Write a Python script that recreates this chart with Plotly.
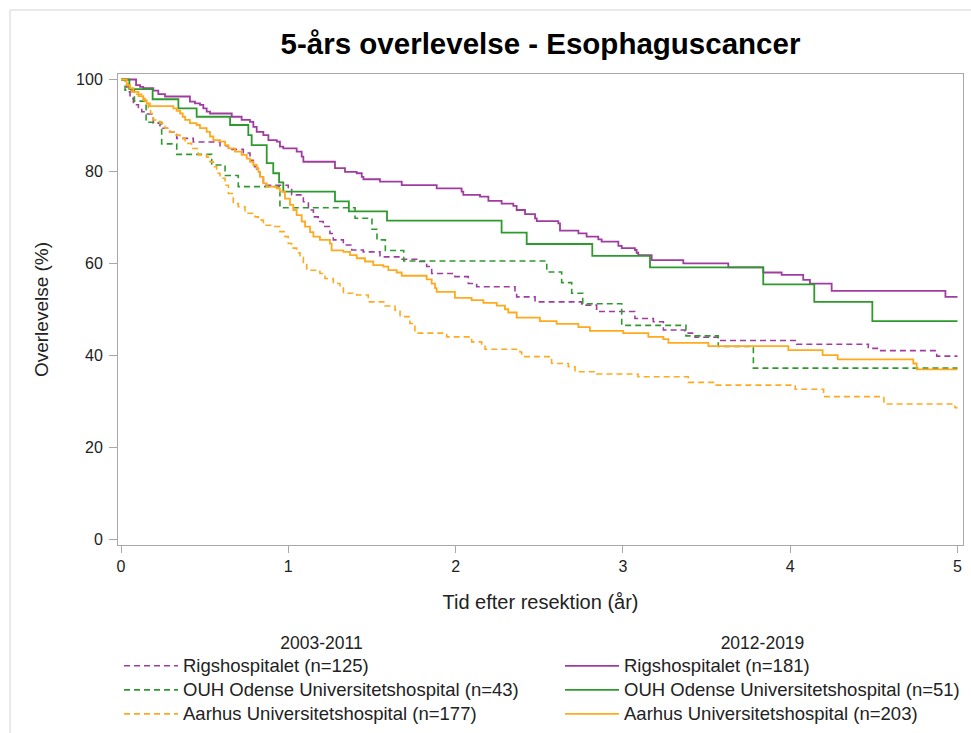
import plotly.graph_objects as go

# ---------------- data (time in years, survival in %) ----------------
rh_0311_t = [0, 0.034, 0.044, 0.054, 0.074, 0.104, 0.124, 0.143, 0.193, 0.233, 0.293, 0.333, 0.432,
             0.592, 0.642, 0.731, 0.771, 0.791, 0.811, 0.831, 0.851, 1.000, 1.020, 1.090, 1.120, 1.150,
             1.179, 1.209, 1.249, 1.269, 1.329, 1.379, 1.448, 1.548, 1.668, 1.767, 1.827, 1.857, 1.996,
             2.076, 2.126, 2.355, 2.365, 2.475, 2.754, 2.843, 3.072, 3.182, 3.242, 3.371, 3.431, 3.570,
             4.039, 4.467, 4.527, 4.876, 5.0]
rh_0311_s = [100, 98.4, 97.3, 95.9, 94.5, 93.9, 93.0, 92.5, 90.5, 89.4, 88.6, 87.2, 86.4,
             85.6, 84.8, 84.0, 82.4, 81.0, 79.9, 78.8, 77.0, 76.5, 74.9, 73.4, 71.6, 70.1,
             69.1, 68.0, 66.5, 65.1, 64.0, 62.9, 62.5, 61.4, 60.9, 60.4, 59.3, 57.8, 57.1,
             55.6, 54.9, 53.8, 52.7, 51.6, 50.9, 49.5, 48.0, 47.3, 45.5, 44.8, 43.9, 43.2,
             42.4, 41.5, 41.0, 39.8, 39.8]

ouh_0311_t = [0, 0.024, 0.08, 0.15, 0.243, 0.333, 0.542, 0.622, 0.701, 0.950, 1.399, 1.50, 1.53,
              1.58, 1.69, 2.545, 2.634, 2.694, 2.76, 2.993, 3.377, 3.570, 3.780, 5.0]
ouh_0311_s = [100, 97.7, 95.3, 90.7, 86.0, 83.7, 81.4, 79.1, 76.7, 72.1, 69.8, 67.4, 65.1,
              62.8, 60.5, 58.1, 55.8, 53.5, 51.2, 46.5, 44.2, 41.9, 37.2, 37.2]

auh_0311_t = [0, 0.024, 0.044, 0.064, 0.094, 0.124, 0.143, 0.163, 0.177, 0.193, 0.233, 0.263, 0.283,
              0.323, 0.353, 0.383, 0.422, 0.462, 0.512, 0.532, 0.552, 0.572, 0.592, 0.622, 0.642,
              0.671, 0.701, 0.741, 0.801, 0.821, 0.851, 0.910, 0.950, 0.980, 1.000, 1.020, 1.050,
              1.070, 1.090, 1.110, 1.189, 1.219, 1.269, 1.309, 1.329, 1.409, 1.478, 1.578, 1.638,
              1.668, 1.727, 1.757, 1.947, 2.096, 2.156, 2.176, 2.385, 2.395, 2.564, 2.574, 2.674,
              2.714, 2.843, 3.090, 3.391, 3.550, 4.030, 4.200, 4.560, 4.985, 5.0]
auh_0311_s = [100, 99.0, 98.1, 97.3, 96.8, 95.9, 94.8, 93.9, 92.6, 91.2, 90.5, 89.4, 88.6,
              87.9, 87.2, 86.1, 85.0, 83.6, 83.1, 82.1, 81.0, 79.6, 78.5, 77.0, 75.2,
              73.0, 72.3, 70.9, 70.1, 69.4, 68.3, 68.0, 66.9, 65.8, 64.3, 63.3, 62.3,
              61.3, 60.0, 58.5, 57.8, 56.7, 55.6, 54.9, 53.5, 53.1, 51.6, 50.7, 49.8,
              48.4, 46.9, 44.8, 44.0, 42.9, 42.2, 41.3, 40.7, 39.7, 39.0, 38.2, 37.5,
              36.4, 35.9, 35.3, 34.1, 33.5, 32.6, 31.0, 29.4, 28.6, 28.6]

rh_1219_t = [0, 0.090, 0.114, 0.133, 0.193, 0.223, 0.263, 0.412, 0.442, 0.472, 0.492, 0.512, 0.532,
             0.662, 0.721, 0.771, 0.791, 0.811, 0.851, 0.881, 0.931, 0.950, 0.970, 1.050, 1.080,
             1.090, 1.279, 1.339, 1.409, 1.439, 1.449, 1.548, 1.678, 1.887, 2.036, 2.046, 2.146,
             2.196, 2.275, 2.345, 2.365, 2.415, 2.475, 2.485, 2.614, 2.624, 2.734, 2.783, 2.853,
             2.873, 2.973, 2.993, 3.072, 3.082, 3.092, 3.172, 3.361, 3.630, 3.839, 3.949, 4.078,
             4.118, 4.248, 4.928, 5.0]
rh_1219_s = [100, 98.8, 98.4, 98.1, 97.6, 96.8, 96.3, 95.2, 94.8, 94.5, 93.7, 93.0, 92.6,
             91.9, 91.2, 90.8, 89.7, 88.6, 87.9, 86.8, 86.5, 85.4, 85.0, 84.3, 83.2,
             82.1, 80.7, 79.9, 79.6, 78.8, 78.3, 77.8, 77.0, 76.3, 75.6, 74.9, 74.5,
             73.6, 73.0, 72.5, 71.6, 70.7, 69.8, 69.2, 68.7, 67.1, 66.5, 65.8, 65.2,
             64.7, 63.8, 63.3, 62.9, 62.3, 61.8, 60.7, 60.0, 59.1, 58.0, 57.5, 56.4,
             55.6, 54.0, 52.7, 52.7]

ouh_1219_t = [0, 0.05, 0.189, 0.343, 0.452, 0.652, 0.761, 0.781, 0.871, 0.910, 0.945, 0.970, 1.279,
              1.362, 1.590, 2.275, 2.425, 2.817, 3.162, 3.839, 4.144, 4.491, 5.0]
ouh_1219_s = [100, 97.9, 95.7, 93.7, 91.9, 90.1, 87.9, 85.7, 81.8, 79.6, 77.6, 75.6, 73.5,
              71.3, 69.3, 66.7, 64.2, 61.6, 59.1, 55.4, 51.6, 47.4, 47.4]

auh_1219_t = [0, 0.034, 0.054, 0.074, 0.104, 0.133, 0.153, 0.173, 0.313, 0.333, 0.353, 0.369, 0.383,
              0.412, 0.452, 0.472, 0.512, 0.532, 0.552, 0.592, 0.622, 0.642, 0.681, 0.721, 0.751,
              0.771, 0.791, 0.811, 0.821, 0.831, 0.851, 0.871, 0.931, 0.950, 0.980, 1.010, 1.030,
              1.050, 1.080, 1.100, 1.130, 1.150, 1.189, 1.249, 1.259, 1.329, 1.369, 1.409, 1.458,
              1.508, 1.568, 1.598, 1.648, 1.678, 1.827, 1.857, 1.877, 1.887, 1.996, 2.096, 2.166,
              2.246, 2.295, 2.315, 2.365, 2.504, 2.604, 2.734, 2.803, 3.002, 3.152, 3.242, 3.272,
              3.511, 3.989, 4.194, 4.284, 4.736, 4.756, 5.0]
auh_1219_s = [100, 98.8, 98.1, 97.3, 96.4, 95.5, 94.8, 94.2, 93.7, 93.2, 92.6, 91.9, 91.2,
              90.5, 90.1, 89.4, 88.6, 87.6, 86.8, 86.5, 85.7, 85.0, 84.3, 83.6, 82.8,
              82.1, 81.4, 80.7, 79.9, 78.8, 77.4, 76.7, 76.3, 75.6, 74.1, 72.7, 71.6,
              70.5, 69.1, 68.0, 66.8, 65.8, 65.1, 64.3, 62.8, 62.5, 61.8, 61.1, 60.4,
              59.6, 59.3, 58.5, 58.0, 57.3, 56.5, 55.6, 54.6, 53.8, 52.5, 52.0, 51.4,
              50.8, 50.0, 49.3, 48.2, 47.4, 46.8, 46.1, 45.3, 44.8, 44.0, 43.5, 42.7,
              42.0, 41.1, 40.0, 39.1, 38.2, 36.9, 36.9]

labels_0311 = ["Rigshospitalet (n=125)", "OUH Odense Universitetshospital (n=43)",
               "Aarhus Universitetshospital (n=177)"]
labels_1219 = ["Rigshospitalet (n=181)", "OUH Odense Universitetshospital (n=51)",
               "Aarhus Universitetshospital (n=203)"]
colors = ["#A03CA0", "#2E9A2E", "#FFAA1E"]

x_ticks = [0, 1, 2, 3, 4, 5]
y_ticks = [0, 20, 40, 60, 80, 100]

FONT = "Liberation Sans, Arial, sans-serif"
TXT = "#222222"


def leg_name(s):
    # larger visible text while keeping the legend rows tight (as in the original)
    return '<span style="font-size:18.5px">' + s + "</span>"


fig = go.Figure()
early = [(rh_0311_t, rh_0311_s), (ouh_0311_t, ouh_0311_s), (auh_0311_t, auh_0311_s)]
late = [(rh_1219_t, rh_1219_s), (ouh_1219_t, ouh_1219_s), (auh_1219_t, auh_1219_s)]

for (t, s), lab, col in zip(early, labels_0311, colors):
    fig.add_trace(go.Scatter(x=t, y=s, mode="lines", name=leg_name(lab), legend="legend",
                             line=dict(color=col, width=1.6, dash="6px,4px", shape="hv")))
for (t, s), lab, col in zip(late, labels_1219, colors):
    fig.add_trace(go.Scatter(x=t, y=s, mode="lines", name=leg_name(lab), legend="legend2",
                             line=dict(color=col, width=1.8, shape="hv")))

W, H = 971, 733
ML, MR, MT, MB = 118, 8, 74, 188
pw, ph = W - ML - MR, H - MT - MB


def px_x(p):
    return (p - ML) / pw


def px_y(p):
    return (H - MB - p) / ph


frame_col = "#D4D4D4"
shapes = [
    dict(type="line", xref="paper", yref="paper", x0=px_x(10), x1=px_x(971), y0=px_y(10), y1=px_y(10),
         line=dict(color=frame_col, width=1)),
    dict(type="line", xref="paper", yref="paper", x0=px_x(10), x1=px_x(10), y0=px_y(10), y1=px_y(733),
         line=dict(color=frame_col, width=1)),
]

axis_common = dict(showgrid=False, zeroline=False, showline=True, mirror=True,
                   linecolor="#A8A8A8", linewidth=1, ticks="outside",
                   tickcolor="#A8A8A8", tickfont=dict(family=FONT, size=16, color=TXT))

leg_common = dict(orientation="v", bgcolor="rgba(0,0,0,0)", borderwidth=0,
                  font=dict(family=FONT, size=16.2, color=TXT), itemwidth=54,
                  xanchor="left", yanchor="top", tracegroupgap=0)

fig.update_layout(
    width=W, height=H,
    margin=dict(l=ML, r=MR, t=MT, b=MB, autoexpand=False),
    paper_bgcolor="white", plot_bgcolor="white",
    title=dict(text="<b>5-års overlevelse - Esophaguscancer</b>", x=0.5, xref="paper",
               xanchor="center", y=1 - 44 / H, yref="container", yanchor="middle",
               font=dict(family=FONT, size=29.5, color="black")),
    xaxis=dict(range=[-0.018, 5.033], tickvals=x_ticks, ticklen=7, ticklabelstandoff=0,
               title=dict(text="Tid efter resektion (år)", standoff=20,
                          font=dict(family=FONT, size=20, color=TXT)),
               **axis_common),
    yaxis=dict(range=[-1.3, 101.2], tickvals=y_ticks, ticklen=8, ticklabelstandoff=3,
               title=dict(text="Overlevelse (%)", standoff=22,
                          font=dict(family=FONT, size=19, color=TXT)),
               **axis_common),
    legend=dict(x=px_x(119), y=px_y(626),
                title=dict(text="2003-2011", side="top center",
                           font=dict(family=FONT, size=17.5, color=TXT)),
                **leg_common),
    legend2=dict(x=px_x(560), y=px_y(626),
                 title=dict(text="2012-2019", side="top center",
                            font=dict(family=FONT, size=17.5, color=TXT)),
                 **leg_common),
    shapes=shapes,
    showlegend=True,
)

fig.write_html("out.html")
